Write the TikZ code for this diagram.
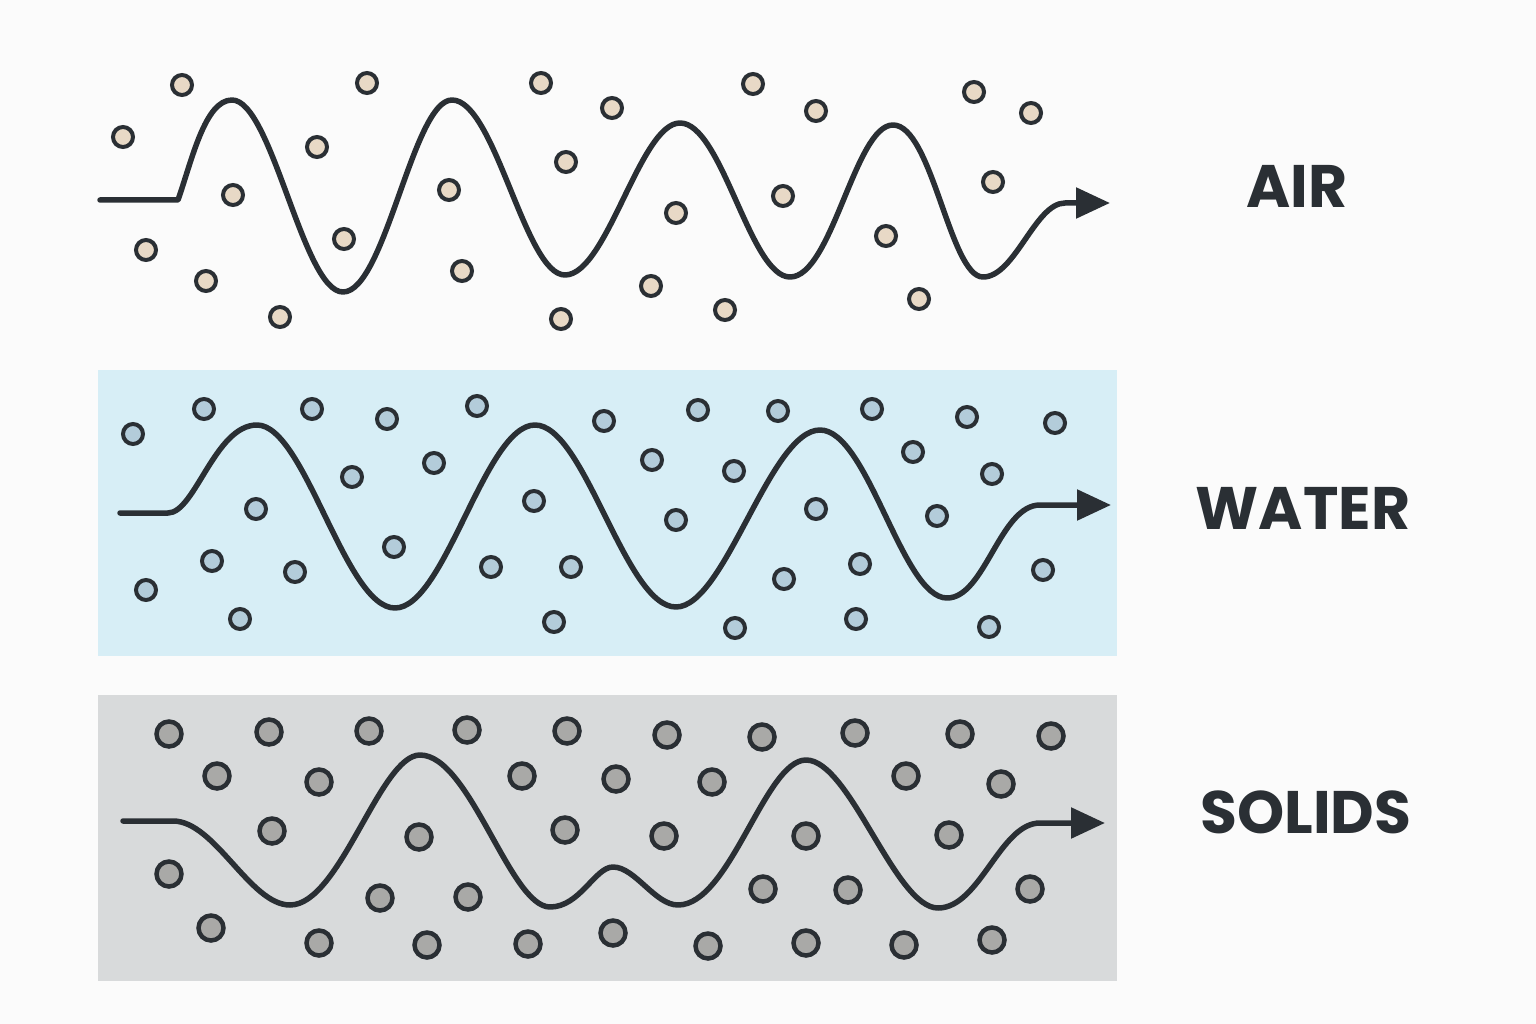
\documentclass[tikz,border=0pt]{standalone}
\usepackage{fontspec}
\setmainfont{Poppins}
\usetikzlibrary{arrows.meta}
\definecolor{ink}{HTML}{2A2F34}
\definecolor{bgc}{HTML}{FBFBFB}
\definecolor{waterbg}{HTML}{D7EEF6}
\definecolor{solidbg}{HTML}{D8DADB}
\definecolor{airdot}{HTML}{E8D9C6}
\definecolor{waterdot}{HTML}{B3CCDA}
\definecolor{soliddot}{HTML}{A9A9A7}
\begin{document}
\begin{tikzpicture}[x=1pt,y=-1pt,
  wave/.style={line width=5.5pt, draw=ink, line cap=round, line join=round,
    -{Triangle[length=34pt,width=30pt]}},
  airp/.style={draw=ink, line width=4pt, fill=airdot},
  waterp/.style={draw=ink, line width=4pt, fill=waterdot},
  solidp/.style={draw=ink, line width=4.5pt, fill=soliddot},
  label/.style={font=\bfseries\fontsize{60}{60}\selectfont, text=ink, inner sep=0pt, anchor=center}]
\useasboundingbox (0,0) rectangle (1536,1024);
\fill[bgc] (0,0) rectangle (1536,1024);
% panels
\fill[waterbg] (98,370) rectangle (1117,656);
\fill[solidbg] (98,695) rectangle (1117,981);

% AIR dots
\foreach \x/\y in {182/85,123/137,367/83,317/147,233/195,449/190,146/250,344/239,462/271,206/281,280/317,
  541/83,612/108,566/162,676/213,651/286,561/319,753/84,816/111,783/196,886/236,725/310,919/299,
  974/92,1031/113,993/182}
  \draw[airp] (\x,\y) circle (10pt);

% WATER dots
\foreach \x/\y in {133/434,204/409,312/409,387/419,477/406,434/463,352/477,256/509,534/501,394/547,
  212/561,295/572,146/590,240/619,491/567,571/567,554/622,
  604/421,698/410,778/411,872/409,967/417,1055/423,652/460,734/471,913/452,992/474,
  676/520,816/509,937/516,784/579,860/564,1043/570,735/628,856/619,989/627}
  \draw[waterp] (\x,\y) circle (10pt);

% SOLIDS dots
\foreach \x/\y in {169/734,269/732,369/731,467/730,567/731,217/776,319/782,522/776,272/831,419/837,
  565/830,169/874,380/898,468/897,211/928,319/943,427/945,528/944,
  667/735,762/737,855/733,960/734,1051/736,616/779,712/782,906/776,1001/784,664/836,
  806/836,949/835,763/889,848/890,1030/889,613/933,708/946,806/943,904/945,992/940}
  \draw[solidp] (\x,\y) circle (12.5pt);

% AIR wave
\draw[wave] (100,200) -- (178,200)
  .. controls (192,160) and (205,100) .. (232,100)
  .. controls (272,100) and (303,292) .. (343,292)
  .. controls (385,292) and (413,100) .. (452,100)
  .. controls (495,100) and (525,275) .. (565,275)
  .. controls (607,275) and (640,123) .. (680,123)
  .. controls (722,123) and (750,277) .. (790,277)
  .. controls (832,277) and (855,125) .. (893,125)
  .. controls (932,125) and (950,277) .. (983,277)
  .. controls (1015,277) and (1035,203) .. (1065,203) -- (1110,203);

% WATER wave
\draw[wave] (120,513) -- (168,513)
  .. controls (195,513) and (215,425) .. (257,425)
  .. controls (305,425) and (345,608) .. (395,608)
  .. controls (445,608) and (485,425) .. (535,425)
  .. controls (585,425) and (625,607) .. (676,607)
  .. controls (725,607) and (770,430) .. (820,430)
  .. controls (868,430) and (902,598) .. (947,598)
  .. controls (985,598) and (1000,505) .. (1040,505) -- (1111,505);

% SOLIDS wave
\draw[wave] (123,821) -- (173,821)
  .. controls (215,821) and (250,905) .. (290,905)
  .. controls (340,905) and (380,755) .. (420,755)
  .. controls (470,755) and (510,907) .. (550,907)
  .. controls (580,907) and (595,867) .. (613,867)
  .. controls (635,867) and (655,905) .. (678,905)
  .. controls (730,905) and (765,760) .. (806,760)
  .. controls (850,760) and (895,908) .. (938,908)
  .. controls (980,908) and (1000,823) .. (1040,823) -- (1105,823);

% labels
\node[label] (air) at (1297,186) {AIR};
\node[label] (water) at (1303,508) {WATER};
\node[label] (solids) at (1306,812) {SOLIDS};
\end{tikzpicture}
\end{document}
